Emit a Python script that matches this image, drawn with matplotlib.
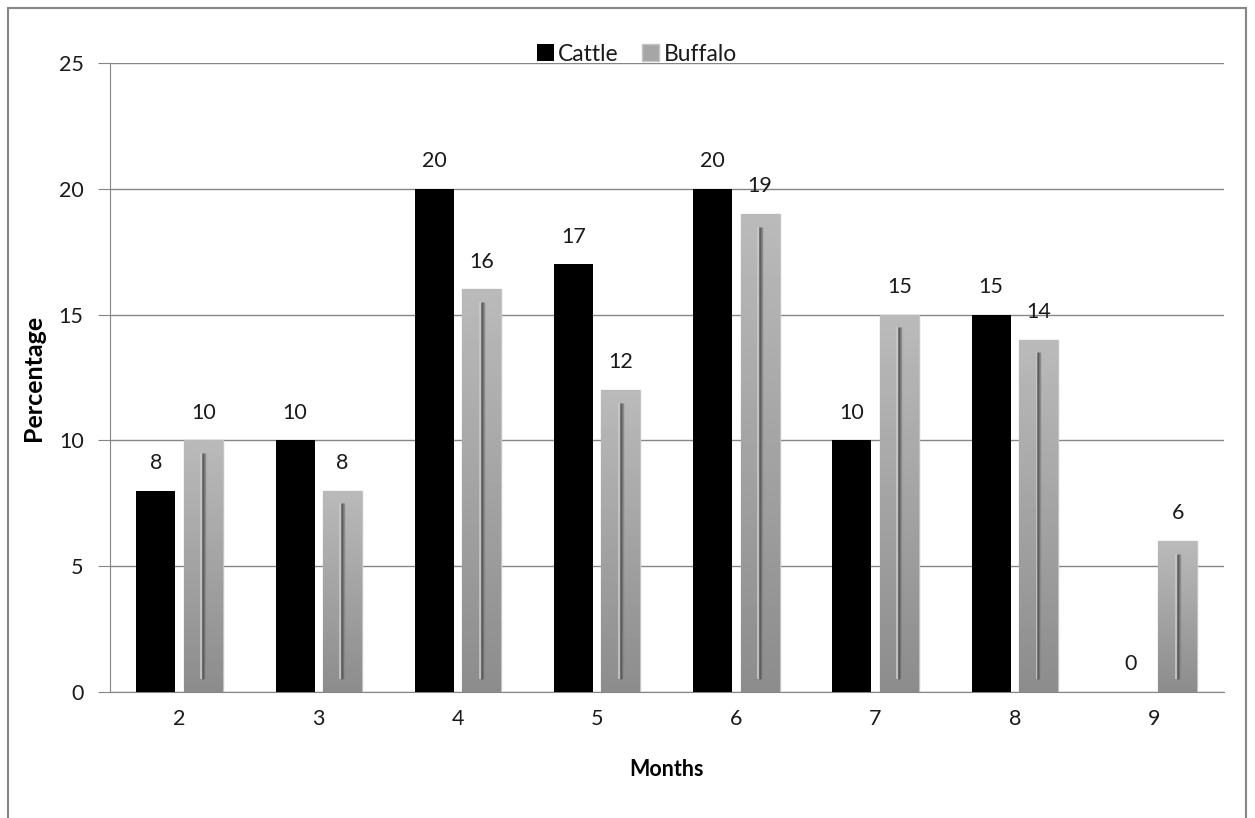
import numpy as np
import matplotlib.pyplot as plt
from matplotlib.patches import Rectangle

# Data
months = ['2', '3', '4', '5', '6', '7', '8', '9']
cattle = [8, 10, 20, 17, 20, 10, 15, 0]
buffalo = [10, 8, 16, 12, 19, 15, 14, 6]

plt.rcParams['font.family'] = ['Lato', 'DejaVu Sans']

fig = plt.figure(figsize=(12.55, 8.18), dpi=100)
ax = fig.add_axes([0.0876, 0.154, 0.8874, 0.769])

x = np.arange(len(months))
w = 0.28
off = 0.17

b1 = ax.bar(x - off, cattle, w, color='black', label='Cattle', zorder=3)
b2 = ax.bar(x + off, buffalo, w, color='#a6a6a6', edgecolor='#c4c4c4',
            linewidth=1, label='Buffalo', zorder=3)

# gradient fill (darker at the bottom) and inner groove for buffalo bars
grad = np.linspace(0.55, 0.73, 100).reshape(-1, 1)
for rect, v in zip(b2, buffalo):
    x0 = rect.get_x()
    im = ax.imshow(grad, cmap='gray', vmin=0, vmax=1, aspect='auto',
                   extent=(x0, x0 + w, 0, v), origin='lower', zorder=3.5)
    im.set_clip_path(rect)
    cx = x0 + w / 2
    ax.vlines(cx - 0.014, 0.5, v - 0.5, color='#c9c9c9', lw=1.2, zorder=4)
    ax.vlines(cx, 0.5, v - 0.5, color='#5e5e5e', lw=1.8, zorder=4)
    ax.vlines(cx + 0.014, 0.5, v - 0.5, color='#8a8a8a', lw=1.0, zorder=4)

for xi, v in zip(x - off, cattle):
    ax.text(xi, v + 0.7, str(v), ha='center', va='bottom', fontsize=15.5, color='#1a1a1a')
for xi, v in zip(x + off, buffalo):
    ax.text(xi, v + 0.7, str(v), ha='center', va='bottom', fontsize=15.5, color='#1a1a1a')

ax.set_xlim(-0.5, len(months) - 0.5)
ax.set_ylim(0, 25)
ax.set_yticks(range(0, 26, 5))
ax.set_xticks(x)
ax.set_xticklabels(months)
ax.grid(axis='y', color='#868686', lw=1, zorder=0)
ax.set_axisbelow(True)
for s in ['top', 'right']:
    ax.spines[s].set_visible(False)
for s in ['left', 'bottom']:
    ax.spines[s].set_color('#868686')
ax.tick_params(axis='y', length=9, color='#868686', labelsize=15.5, labelcolor='#1a1a1a', pad=10)
ax.tick_params(axis='x', length=0, labelsize=15.5, labelcolor='#1a1a1a', pad=12)
ax.set_ylabel('Percentage', fontsize=18, fontweight='bold', labelpad=10)
ax.set_xlabel('Months', fontsize=15.5, fontweight='bold', labelpad=22)

leg = ax.legend(loc='lower center', bbox_to_anchor=(0.473, 0.983), ncol=2, frameon=False,
                fontsize=16.5, handlelength=0.75, handleheight=0.75, handletextpad=0.2,
                columnspacing=1.0, borderaxespad=0)
for t in leg.get_texts():
    t.set_color('#1a1a1a')

fig.patches.append(Rectangle((0.0064, -0.05), 0.9865, 1.04, transform=fig.transFigure,
                             fill=False, edgecolor='#868686', lw=1.5))

fig.savefig('out.png', dpi=100)
